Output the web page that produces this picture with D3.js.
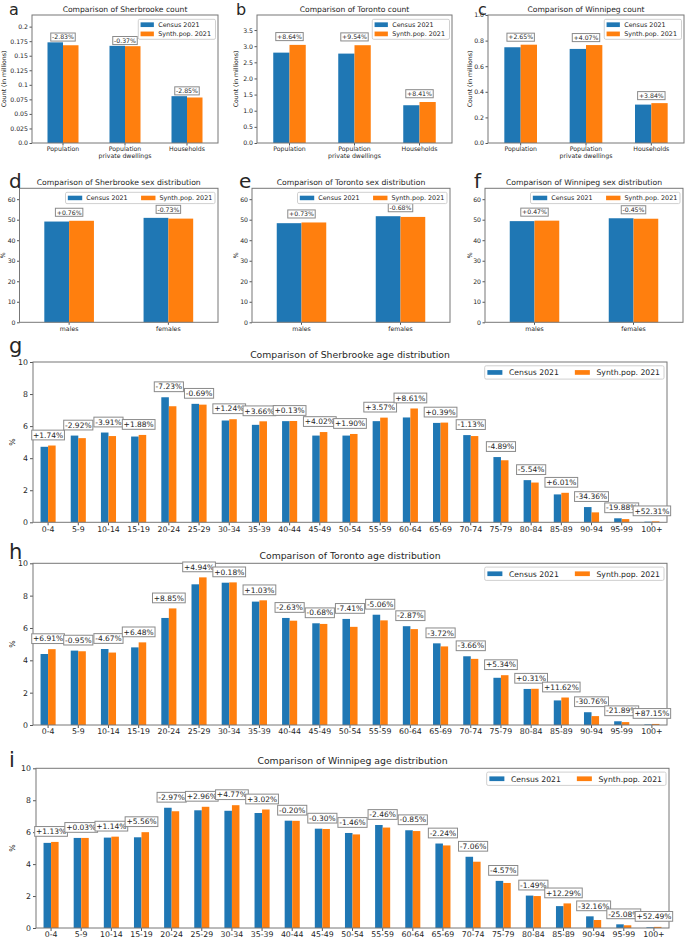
<!DOCTYPE html>
<html><head><meta charset="utf-8">
<script src="https://cdn.jsdelivr.net/npm/d3@7"></script>
<style>
body{margin:0;background:#fff}
svg{display:block}
text{font-family:"DejaVu Sans",sans-serif;fill:#262626}
</style>
</head><body>
<svg id="chart" width="685" height="939"></svg>
<script>
// ---------------- DATA ----------------
const seriesNames = ["Census 2021", "Synth.pop. 2021"];
const seriesColors = ["#1f77b4", "#ff7f0e"];

const countCategories = ["Population", "Population\nprivate dwellings", "Households"];
const sherbrookeCountCensus = [0.173, 0.167, 0.0805];
const sherbrookeCountSynth  = [0.168, 0.1664, 0.0782];
const sherbrookeCountDiff   = ["-2.83%", "-0.37%", "-2.85%"];
const torontoCountCensus = [2.80, 2.77, 1.17];
const torontoCountSynth  = [3.04, 3.03, 1.27];
const torontoCountDiff   = ["+8.64%", "+9.54%", "+8.41%"];
const winnipegCountCensus = [0.748, 0.735, 0.300];
const winnipegCountSynth  = [0.768, 0.765, 0.3115];
const winnipegCountDiff   = ["+2.65%", "+4.07%", "+3.84%"];

const sexCategories = ["males", "females"];
const sherbrookeSexCensus = [49.1, 50.9];
const sherbrookeSexSynth  = [49.47, 50.53];
const sherbrookeSexDiff   = ["+0.76%", "-0.73%"];
const torontoSexCensus = [48.3, 51.7];
const torontoSexSynth  = [48.65, 51.35];
const torontoSexDiff   = ["+0.73%", "-0.68%"];
const winnipegSexCensus = [49.3, 50.7];
const winnipegSexSynth  = [49.53, 50.47];
const winnipegSexDiff   = ["+0.47%", "-0.45%"];

const ageCategories = ["0-4","5-9","10-14","15-19","20-24","25-29","30-34","35-39","40-44","45-49","50-54","55-59","60-64","65-69","70-74","75-79","80-84","85-89","90-94","95-99","100+"];
const sherbrookeAgeCensus = [4.71,5.41,5.60,5.35,7.80,7.39,6.35,6.08,6.31,5.41,5.41,6.31,6.54,6.20,5.44,4.07,2.63,1.74,0.95,0.25,0.04];
const sherbrookeAgeSynth  = [4.79,5.25,5.38,5.45,7.24,7.34,6.43,6.30,6.32,5.63,5.51,6.53,7.10,6.22,5.38,3.87,2.48,1.84,0.62,0.20,0.06];
const sherbrookeAgeDiff   = ["+1.74%","-2.92%","-3.91%","+1.88%","-7.23%","-0.69%","+1.24%","+3.66%","+0.13%","+4.02%","+1.90%","+3.57%","+8.61%","+0.39%","-1.13%","-4.89%","-5.54%","+6.01%","-34.36%","-19.88%","+52.31%"];
const torontoAgeCensus = [4.39,4.60,4.70,4.80,6.62,8.70,8.80,7.63,6.62,6.29,6.56,6.82,6.11,5.05,4.25,2.92,2.23,1.52,0.79,0.23,0.035];
const torontoAgeSynth  = [4.69,4.56,4.48,5.11,7.21,9.13,8.82,7.71,6.45,6.25,6.07,6.47,5.93,4.86,4.09,3.08,2.24,1.70,0.55,0.18,0.065];
const torontoAgeDiff   = ["+6.91%","-0.95%","-4.67%","+6.48%","+8.85%","+4.94%","+0.18%","+1.03%","-2.63%","-0.68%","-7.41%","-5.06%","-2.87%","-3.72%","-3.66%","+5.34%","+0.31%","+11.62%","-30.76%","-21.89%","+87.15%"];
const winnipegAgeCensus = [5.33,5.64,5.66,5.68,7.53,7.37,7.34,7.20,6.72,6.22,5.95,6.45,6.12,5.29,4.46,2.95,2.03,1.37,0.73,0.23,0.045];
const winnipegAgeSynth  = [5.39,5.64,5.72,6.00,7.31,7.59,7.69,7.42,6.71,6.20,5.86,6.29,6.07,5.17,4.15,2.82,2.00,1.54,0.50,0.17,0.07];
const winnipegAgeDiff   = ["+1.13%","+0.03%","+1.14%","+5.56%","-2.97%","+2.96%","+4.77%","+3.02%","-0.20%","-0.30%","-1.46%","-2.46%","-0.85%","-2.24%","-7.06%","-4.57%","-1.49%","+12.29%","-32.16%","-25.08%","+52.49%"];

const sherbrookeTicks = [0,0.025,0.05,0.075,0.1,0.125,0.15,0.175,0.2];
const sherbrookeTickLabels = ["0.0","0.025","0.05","0.075","0.1","0.125","0.15","0.175","0.2"];
const torontoTicks = [0,0.5,1,1.5,2,2.5,3,3.5];
const torontoTickLabels = ["0.0","0.5","1.0","1.5","2.0","2.5","3.0","3.5"];
const winnipegTicks = [0,0.2,0.4,0.6,0.8,1.0];
const winnipegTickLabels = ["0.0","0.2","0.4","0.6","0.8","1.0"];
const sexTicks = [0,10,20,30,40,50,60];
const sexTickLabels = ["0","10","20","30","40","50","60"];
const ageTicks = [0,2,4,6,8,10];
const ageTickLabels = ["0","2","4","6","8","10"];

// ---------------- DRAWING ----------------
const svg = d3.select("#chart");

function drawPanel(p) {
  const g = svg.append("g");
  const n = p.cats.length;
  const x = d3.scaleBand().domain(d3.range(n)).range([p.x0, p.x1]).paddingInner(0.5).paddingOuter(0.25);
  const xs = d3.scaleBand().domain([0, 1]).range([0, x.bandwidth()]);
  const y = d3.scaleLinear().domain([0, p.yMax]).range([p.y1, p.y0]);
  const vals = [p.census, p.synth];

  // bars
  vals.forEach((arr, s) => {
    g.append("g").selectAll("rect").data(arr).join("rect")
      .attr("x", (d, i) => x(i) + xs(s))
      .attr("width", xs.bandwidth())
      .attr("y", d => y(d))
      .attr("height", d => y(0) - y(d))
      .attr("fill", seriesColors[s]);
  });

  // y axis
  const ya = g.append("g").attr("transform", `translate(${p.x0},0)`)
    .call(d3.axisLeft(y).tickValues(p.yTicks).tickFormat((d, i) => p.yTickLabels[i])
      .tickSize(p.tickLen).tickPadding(p.yTickPad ?? p.tickPad));
  ya.select(".domain").remove();
  ya.selectAll("line").attr("stroke", "#555");
  ya.selectAll("text").attr("font-size", p.tickFs).attr("fill", "#262626").attr("font-family", "DejaVu Sans");

  // x axis
  const xa = g.append("g").attr("transform", `translate(0,${p.y1})`)
    .call(d3.axisBottom(x).tickFormat(i => p.cats[i]).tickSize(p.tickLen).tickPadding(p.tickPad));
  xa.select(".domain").remove();
  xa.selectAll("line").attr("stroke", "#555");
  xa.selectAll("text").attr("font-size", p.tickFs).attr("fill", "#262626").attr("font-family", "DejaVu Sans")
    .each(function(i) {
      const lines = p.cats[i].split("\n");
      const t = d3.select(this);
      t.text(null);
      lines.forEach((ln, k) => {
        t.append("tspan").attr("x", 0).attr("dy", k === 0 ? "0.71em" : "1.1em").text(ln);
      });
    }).attr("dy", null);

  // spines
  g.append("rect").attr("x", p.x0).attr("y", p.y0).attr("width", p.x1 - p.x0).attr("height", p.y1 - p.y0)
    .attr("fill", "none").attr("stroke", "#777").attr("stroke-width", 1);

  // annotations
  p.diffs.forEach((lab, i) => {
    const cx = x(i) + x.bandwidth() / 2;
    const cy = y(Math.max(p.census[i], p.synth[i])) - p.annOffset;
    const ag = g.append("g");
    const r = ag.append("rect");
    const t = ag.append("text").attr("x", cx).attr("y", cy).attr("dy", "0.36em")
      .attr("text-anchor", "middle").attr("font-size", p.annFs).text(lab);
    const w = t.node().getComputedTextLength() + 2 * p.annPadX;
    const h = p.annFs * 1.3;
    r.attr("x", cx - w / 2).attr("y", cy - h / 2).attr("width", w).attr("height", h)
      .attr("fill", "#fff").attr("stroke", "#8a8a8a").attr("stroke-width", 1);
  });

  // legend
  const L = p.legend;
  const lg = g.append("g");
  const box = lg.append("rect");
  const items = seriesNames.map((nm, s) => {
    const t = lg.append("text").attr("font-size", L.fs).text(nm);
    return { t, s, w: t.node().getComputedTextLength() };
  });
  const rows = L.cols === 1 ? items.length : 1;
  const boxH = rows * L.rowH + L.padV;
  let boxW;
  if (L.cols === 1) {
    boxW = L.padL + L.hW + L.gap + d3.max(items, d => d.w) + L.padR;
  } else {
    boxW = L.padL + d3.sum(items, d => L.hW + L.gap + d.w) + L.colGap * (items.length - 1) + L.padR;
  }
  const bx = p.x1 - L.inset - boxW, by = p.y0 + L.top;
  box.attr("x", bx).attr("y", by).attr("width", boxW).attr("height", boxH).attr("rx", 1.5)
    .attr("fill", "#fff").attr("fill-opacity", 0.85).attr("stroke", "#d0d0d0").attr("stroke-width", 1);
  let cxl = bx + L.padL;
  items.forEach((it, k) => {
    const row = L.cols === 1 ? k : 0;
    const rc = by + L.padV / 2 + L.rowH * (row + 0.5);
    const hx = L.cols === 1 ? bx + L.padL : cxl;
    lg.append("rect").attr("x", hx).attr("y", rc - L.hH / 2).attr("width", L.hW).attr("height", L.hH)
      .attr("fill", seriesColors[it.s]);
    it.t.attr("x", hx + L.hW + L.gap).attr("y", rc).attr("dy", "0.36em");
    if (L.cols !== 1) cxl += L.hW + L.gap + it.w + L.colGap;
  });

  // title
  g.append("text").attr("x", (p.x0 + p.x1) / 2).attr("y", p.y0 - p.titleGap)
    .attr("text-anchor", "middle").attr("font-size", p.titleFs).text(p.title);

  // y label
  g.append("text").attr("transform", `translate(${p.ylabelX},${(p.y0 + p.y1) / 2}) rotate(-90)`)
    .attr("text-anchor", "middle").attr("dy", "0.36em").attr("font-size", p.tickFs).text(p.ylabel);

  // panel letter
  g.append("text").attr("x", p.letterX).attr("y", p.letterY)
    .attr("font-family", "Liberation Sans, Arial, sans-serif").attr("font-size", p.letterFs).attr("fill", "#000")
    .text(p.letter);
}

const legendTop = { fs: 6.4, hW: 13.3, hH: 4.7, gap: 4.3, padL: 2.3, padR: 4.5, rowH: 9.2, padV: 1.6, cols: 1, colGap: 0, inset: 2.5, top: 4.3 };
const legendSex = { fs: 6.4, hW: 14.4, hH: 4.5, gap: 4.0, padL: 2.3, padR: 2.7, rowH: 10, padV: 1.3, cols: 2, colGap: 13.4, inset: 3, top: 4 };
const legendAge = { fs: 7.7, hW: 15, hH: 4.7, gap: 6.6, padL: 2.7, padR: 4, rowH: 12, padV: 1.3, cols: 2, colGap: 16, inset: 3, top: 3.8 };

const topCommon = { cats: countCategories, y0: 15, y1: 143, tickFs: 6.2, tickLen: 2.5, tickPad: 1.5,
  titleFs: 7.6, titleGap: 3, annFs: 6.2, annPadX: 1.3, ylabel: "Count (in millions)", legend: legendTop,
  letterY: 15, letterFs: 16 };

drawPanel(Object.assign({}, topCommon, { letter: "a", letterX: 9, x0: 32, x1: 218, census: sherbrookeCountCensus, synth: sherbrookeCountSynth,
  diffs: sherbrookeCountDiff, yMax: 0.22, yTicks: sherbrookeTicks, yTickLabels: sherbrookeTickLabels,
  title: "Comparison of Sherbrooke count", ylabelX: 3.5, annOffset: 5.3 }));
drawPanel(Object.assign({}, topCommon, { letter: "b", letterX: 236, x0: 257, x1: 452, census: torontoCountCensus, synth: torontoCountSynth,
  diffs: torontoCountDiff, yMax: 3.966, yTicks: torontoTicks, yTickLabels: torontoTickLabels,
  title: "Comparison of Toronto count", ylabelX: 235.5, annOffset: 8.3 }));
drawPanel(Object.assign({}, topCommon, { letter: "c", letterX: 478, x0: 488, x1: 684, census: winnipegCountCensus, synth: winnipegCountSynth,
  diffs: winnipegCountDiff, yMax: 1.0, yTicks: winnipegTicks, yTickLabels: winnipegTickLabels,
  title: "Comparison of Winnipeg count", ylabelX: 469.5, annOffset: 7.5 }));

const sexCommon = { cats: sexCategories, y0: 188.3, y1: 322.3, tickFs: 6.2, tickLen: 2.5, tickPad: 1.5,
  titleFs: 7.7, titleGap: 3.3, annFs: 6.2, annPadX: 1.3, ylabel: "%", legend: legendSex, letterY: 188, letterFs: 20, yMax: 65.3,
  yTicks: sexTicks, yTickLabels: sexTickLabels, annOffset: 8.5 };
drawPanel(Object.assign({}, sexCommon, { letter: "d", letterX: 9, x0: 19.5, x1: 218, census: sherbrookeSexCensus, synth: sherbrookeSexSynth,
  diffs: sherbrookeSexDiff, title: "Comparison of Sherbrooke sex distribution", ylabelX: 3 }));
drawPanel(Object.assign({}, sexCommon, { letter: "e", letterX: 239, x0: 252, x1: 450, census: torontoSexCensus, synth: torontoSexSynth,
  diffs: torontoSexDiff, title: "Comparison of Toronto sex distribution", ylabelX: 236 }));
drawPanel(Object.assign({}, sexCommon, { letter: "f", letterX: 474, x0: 485, x1: 683, census: winnipegSexCensus, synth: winnipegSexSynth,
  diffs: winnipegSexDiff, title: "Comparison of Winnipeg sex distribution", ylabelX: 469.5 }));

const ageCommon = { cats: ageCategories, tickFs: 7.8, tickLen: 3, tickPad: 0.8, yTickPad: 2, titleFs: 9.3, titleGap: 4.5,
  annFs: 7.5, annPadX: 1.3, ylabel: "%", legend: legendAge, yMax: 10, yTicks: ageTicks, yTickLabels: ageTickLabels,
  annOffset: 10.5, letterX: 9, ylabelX: 12.5, letterFs: 21 };
drawPanel(Object.assign({}, ageCommon, { letter: "g", letterY: 353, x0: 33, x1: 667, y0: 362, y1: 522.3,
  census: sherbrookeAgeCensus, synth: sherbrookeAgeSynth, diffs: sherbrookeAgeDiff,
  title: "Comparison of Sherbrooke age distribution" }));
drawPanel(Object.assign({}, ageCommon, { letter: "h", letterY: 559, x0: 33, x1: 667, y0: 563.3, y1: 725,
  census: torontoAgeCensus, synth: torontoAgeSynth, diffs: torontoAgeDiff,
  title: "Comparison of Toronto age distribution" }));
drawPanel(Object.assign({}, ageCommon, { letter: "i", letterY: 767, x0: 36, x1: 669, y0: 768.3, y1: 928,
  census: winnipegAgeCensus, synth: winnipegAgeSynth, diffs: winnipegAgeDiff,
  title: "Comparison of Winnipeg age distribution" }));
</script>
</body></html>
